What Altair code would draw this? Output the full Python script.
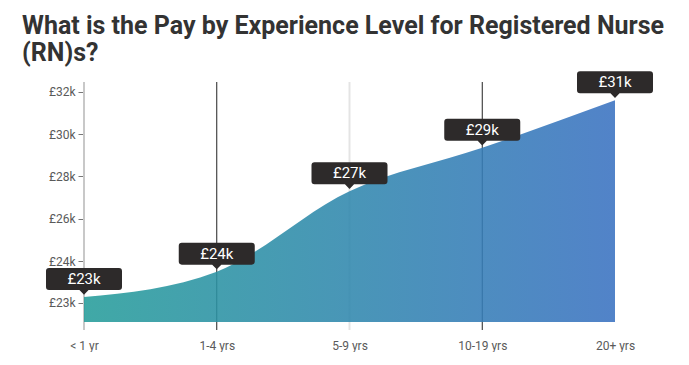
import altair as alt
import pandas as pd

# ---- data ----
levels = ["< 1 yr", "1-4 yrs", "5-9 yrs", "10-19 yrs", "20+ yrs"]
pay_k = [22.3, 23.5, 27.3, 29.35, 31.6]
pay_labels = ["£23k", "£24k", "£27k", "£29k", "£31k"]

y_tick_values = [22.02, 24, 26, 28, 30, 32]
y_tick_labels = ["£23k", "£24k", "£26k", "£28k", "£30k", "£32k"]
y_domain = [21.12, 32.46]

rule_levels = ["< 1 yr", "1-4 yrs", "5-9 yrs", "10-19 yrs"]
rule_colors = ["#c8c8c8", "#222222", "#e4e4e4", "#222222"]
rule_widths = [2, 1, 2, 1]

title_lines = ["What is the Pay by Experience Level for Registered Nurse", "(RN)s?"]

df = pd.DataFrame({"level": levels, "pay": pay_k, "label": pay_labels})
rules_df = pd.DataFrame({"level": rule_levels, "color": rule_colors, "w": rule_widths})

xscale = alt.Scale(type="point", padding=0, domain=levels)

label_expr = "[{}][indexof([{}], datum.value)]".format(
    ",".join("'{}'".format(s) for s in y_tick_labels),
    ",".join(str(v) for v in y_tick_values),
)

x_axis = alt.Axis(title=None, labelAngle=0, ticks=False, domain=False,
                  labelPadding=18, labelFont="Roboto", labelFontSize=12,
                  labelColor="#5a5a5a")
x_main = alt.X("level:O", sort=levels, scale=xscale, axis=x_axis)

yscale = alt.Scale(domain=y_domain, nice=False, zero=False)
y_axis = alt.Axis(title=None, values=y_tick_values, labelExpr=label_expr,
                  domain=False, grid=False, tickSize=6, tickColor="#777777",
                  labelColor="#5a5a5a", labelFont="Roboto", labelFontSize=12,
                  labelPadding=3)
y_main = alt.Y("pay:Q", scale=yscale, axis=y_axis)

area = alt.Chart(df).mark_area(
    interpolate="monotone",
    opacity=0.88,
    color=alt.Gradient(
        gradient="linear",
        stops=[alt.GradientStop(color="#269d9a", offset=0),
               alt.GradientStop(color="#3a72c1", offset=1)],
        x1=0, x2=1, y1=0, y2=0,
    ),
).encode(x=x_main, y=y_main, y2=alt.datum(y_domain[0]))

rules = alt.Chart(rules_df).mark_rule().encode(
    x=x_main,
    y=alt.value(0),
    y2=alt.value(248),
    color=alt.Color("color:N", scale=None),
    strokeWidth=alt.StrokeWidth("w:Q", scale=None),
)

bubble_path = ("M-0.92,-0.763 L0.92,-0.763 Q1,-0.763 1,-0.683 L1,-0.264 "
               "Q1,-0.184 0.92,-0.184 L0.12,-0.184 L0,-0.06 L-0.12,-0.184 "
               "L-0.92,-0.184 Q-1,-0.184 -1,-0.264 L-1,-0.683 Q-1,-0.763 -0.92,-0.763 Z")

bubbles = alt.Chart(df).mark_point(
    shape=bubble_path, size=5776, filled=True, opacity=1,
    color="#2d2a2a", strokeWidth=0,
).encode(x=x_main, y=y_main)

texts = alt.Chart(df).mark_text(
    dy=-18, font="Roboto", fontSize=15, fontWeight="normal", color="#ffffff",
    baseline="middle",
).encode(x=x_main, y=y_main, text="label:N")

chart = alt.layer(rules, area, bubbles, texts).properties(
    width=531,
    height=240,
    padding={"left": 76, "top": 74, "right": 60, "bottom": 30},
    autosize=alt.AutoSizeParams(type="none"),
    title=alt.TitleParams(
        text=title_lines, anchor="start", frame="group", dx=-62,
        fontSize=25, fontWeight="bold", font="Roboto", color="#333333",
        lineHeight=27, offset=5,
    ),
).configure_view(stroke=None)

chart.save("out.html", embed_options={"renderer": "svg", "actions": False})
